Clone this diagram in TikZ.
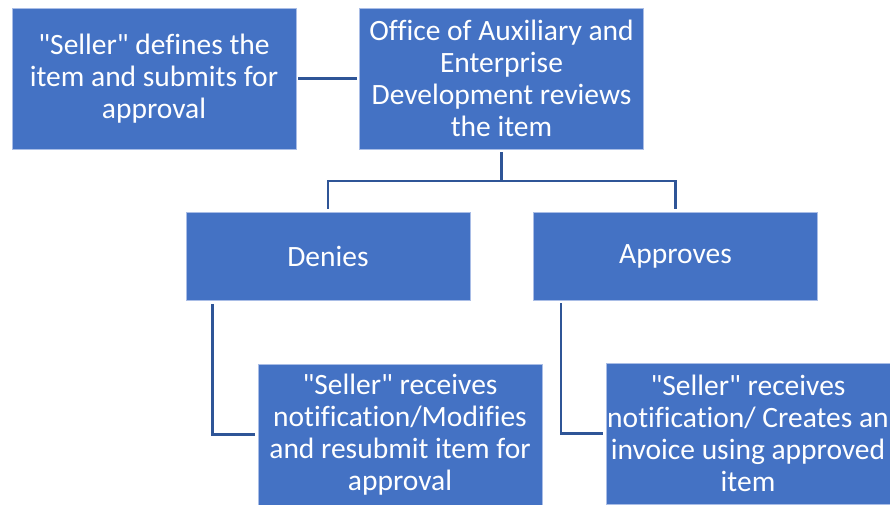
\documentclass[tikz,border=0pt]{standalone}
\usepackage{fontspec}
\setmainfont{Carlito}[Ligatures={TeXOff,NoCommon}]
\definecolor{boxfill}{HTML}{4472C4}
\definecolor{boxedge}{HTML}{A9BDE6}
\definecolor{linkcol}{HTML}{2F5597}
\begin{document}
\begin{tikzpicture}[x=1pt,y=-1pt,
  box/.style={rectangle, fill=boxfill, draw=boxedge, line width=0.8pt,
    text=white, align=center, inner sep=0pt,
    font=\fontsize{29.5}{32}\selectfont},
  bigbox/.style={box, minimum width=284pt, minimum height=141pt},
  smallbox/.style={box, minimum width=284pt, minimum height=88pt},
  link/.style={draw=linkcol, line width=2.4pt}]
\useasboundingbox (0,0) rectangle (890,504);
\clip (0,0) rectangle (890,504);

% boxes
\node[bigbox] (seller) at (154,78.5)
  {"Seller" defines the\\item and submits for\\approval};
\node[bigbox] (office) at (501.5,78.5)
  {Office of Auxiliary and\\Enterprise\\Development reviews\\the item};
\node[smallbox] (denies) at (328,256.5) {Denies};
\node[smallbox] (approves) at (675.5,256) {Approves};
\node[bigbox] (modify) at (400,434.5)
  {"Seller" receives\\notification/Modifies\\and resubmit item for\\approval};
\node[bigbox] (invoice) at (748,433.5)
  {"Seller" receives\\notification/ Creates an\\invoice using approved\\item};

% connectors
\draw[link, shorten <=2pt, shorten >=2pt] (seller.east) -- (office.west);
\coordinate (split) at (501.5,181);
\draw[link, shorten <=3pt] (office.south) -- (split);
\draw[link, shorten >=3pt] (split) -| (denies.north);
\draw[link, shorten >=3pt] (split) -| (approves.north);
\draw[link, shorten <=3pt, shorten >=3pt] ([xshift=27pt]denies.south west) |- (modify.west);
\draw[link, shorten <=3pt, shorten >=3pt] ([xshift=28pt]approves.south west) |- (invoice.west);
\end{tikzpicture}
\end{document}
